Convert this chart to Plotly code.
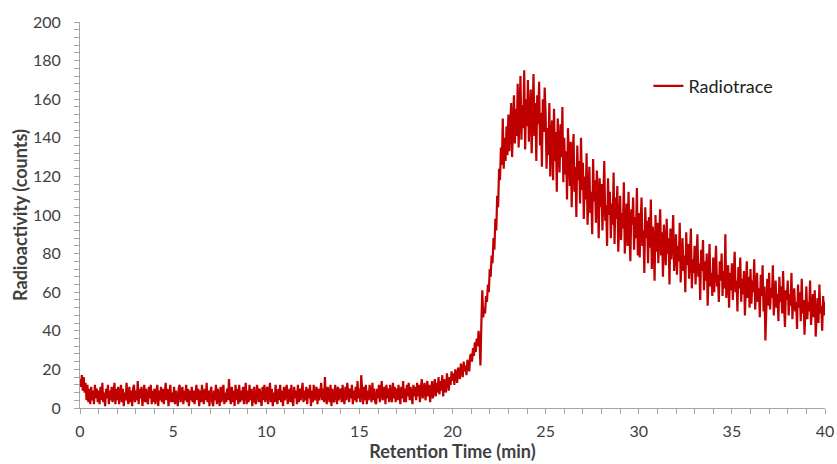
import numpy as np
import plotly.graph_objects as go

# Detector sampling interval (min)
SAMPLE_INTERVAL = 0.05

# Radioactivity counts, one reading every 0.05 min, grouped by 5-minute windows
counts_00_05 = [
    15, 11, 17, 9, 16, 8, 13, 4, 12, 3, 10, 2, 11, 4, 9, 2, 12, 5, 10, 3,
    9, 2, 11, 4, 13, 3, 8, 1, 10, 5, 12, 2, 9, 4, 11, 3, 8, 13, 2, 10,
    4, 11, 2, 9, 12, 3, 10, 1, 8, 4, 13, 5, 2, 11, 3, 9, 1, 10, 12, 3,
    9, 4, 14, 2, 10, 5, 11, 1, 8, 12, 3, 10, 4, 2, 11, 5, 12, 2, 9, 3,
    10, 2, 8, 12, 1, 9, 4, 11, 3, 10, 2, 8, 13, 4, 10, 1, 9, 12, 3, 8,
]
counts_05_10 = [
    3, 11, 2, 9, 5, 1, 10, 12, 3, 8, 11, 2, 9, 4, 12, 3, 10, 1, 9, 4,
    11, 3, 9, 2, 8, 12, 4, 10, 1, 9, 3, 12, 5, 2, 10, 4, 13, 3, 9, 1,
    8, 11, 3, 1, 9, 4, 12, 2, 10, 5, 1, 11, 3, 9, 12, 2, 8, 3, 10, 4,
    15, 5, 2, 11, 3, 9, 1, 12, 4, 10, 2, 12, 3, 9, 4, 11, 2, 8, 13, 2,
    9, 3, 12, 4, 10, 1, 8, 11, 3, 2, 12, 9, 3, 10, 5, 1, 11, 4, 12, 3,
]
counts_10_15 = [
    8, 11, 2, 9, 13, 3, 10, 1, 8, 3, 12, 5, 2, 10, 4, 12, 3, 9, 1, 11,
    4, 9, 12, 2, 8, 10, 3, 12, 4, 1, 11, 5, 9, 2, 12, 3, 10, 4, 8, 13,
    3, 9, 4, 11, 2, 10, 5, 12, 1, 9, 3, 12, 4, 8, 11, 2, 10, 4, 9, 13,
    4, 10, 3, 16, 5, 2, 11, 8, 3, 12, 1, 10, 4, 3, 12, 8, 2, 11, 4, 9,
    10, 3, 12, 5, 2, 11, 4, 13, 8, 3, 10, 5, 12, 2, 9, 4, 11, 3, 14, 5,
]
counts_15_20 = [
    10, 3, 17, 6, 2, 11, 4, 12, 2, 9, 4, 12, 5, 3, 13, 4, 10, 3, 2, 10,
    5, 12, 3, 10, 14, 4, 9, 11, 2, 12, 5, 10, 3, 12, 6, 3, 13, 5, 11, 3,
    10, 4, 12, 6, 2, 11, 5, 14, 3, 10, 3, 12, 6, 13, 4, 11, 5, 2, 12, 6,
    11, 4, 13, 6, 12, 3, 10, 15, 5, 11, 13, 4, 10, 14, 6, 12, 3, 11, 14, 5,
    12, 15, 6, 13, 8, 16, 7, 14, 9, 17, 6, 15, 10, 8, 18, 11, 9, 16, 12, 19,
]
counts_20_25 = [
    14, 18, 12, 20, 16, 13, 21, 17, 15, 23, 18, 16, 24, 19, 22, 17, 25, 21, 19, 27,
    28, 24, 31, 27, 34, 29, 36, 32, 40, 35, 22, 44, 61, 47, 52, 49, 58, 55, 64, 60,
    72, 68, 79, 75, 88, 82, 98, 92, 110, 104, 124, 118, 135, 126, 150, 124, 140, 128, 146, 131,
    152, 133, 144, 158, 130, 148, 162, 137, 155, 141, 168, 135, 150, 172, 139, 157, 145, 175, 134, 160,
    146, 170, 138, 155, 165, 132, 150, 173, 141, 158, 128, 162, 147, 169, 136, 153, 125, 160, 143, 166,
]
counts_25_30 = [
    152, 124, 145, 131, 158, 120, 140, 149, 118, 155, 128, 143, 112, 150, 135, 122, 147, 130, 156, 117,
    140, 121, 133, 108, 145, 126, 115, 138, 104, 130, 142, 112, 125, 99, 136, 118, 128, 106, 140, 113,
    127, 98, 120, 108, 132, 95, 116, 125, 101, 112, 90, 129, 107, 118, 96, 123, 110, 88, 119, 104,
    116, 92, 110, 128, 97, 105, 84, 119, 100, 112, 88, 106, 95, 122, 85, 109, 98, 115, 81, 103,
    110, 87, 101, 93, 117, 80, 98, 106, 84, 112, 91, 76, 103, 95, 109, 82, 99, 88, 114, 79,
]
counts_30_35 = [
    101, 78, 95, 109, 84, 92, 70, 104, 88, 97, 75, 99, 83, 108, 72, 94, 86, 66, 100, 81,
    96, 75, 89, 103, 79, 91, 68, 95, 84, 74, 98, 80, 88, 64, 93, 77, 86, 100, 71, 83,
    90, 69, 84, 76, 96, 65, 82, 88, 71, 79, 60, 91, 74, 85, 67, 80, 93, 62, 77, 70,
    84, 64, 78, 90, 68, 75, 56, 82, 71, 87, 61, 76, 66, 80, 53, 73, 85, 63, 70, 58,
    78, 60, 72, 84, 63, 69, 55, 76, 66, 80, 58, 71, 62, 90, 57, 68, 74, 52, 70, 61,
]
counts_35_40 = [
    75, 56, 69, 81, 60, 66, 50, 73, 62, 78, 55, 67, 59, 71, 48, 64, 76, 57, 68, 52,
    72, 54, 66, 60, 77, 51, 64, 70, 55, 62, 47, 69, 58, 74, 50, 63, 35, 57, 67, 53,
    70, 51, 62, 57, 74, 48, 60, 66, 52, 59, 45, 68, 55, 63, 49, 71, 54, 42, 61, 56,
    66, 48, 59, 53, 70, 46, 57, 62, 50, 55, 41, 64, 52, 60, 45, 67, 49, 56, 38, 58,
    63, 46, 55, 50, 66, 43, 54, 59, 47, 61, 37, 52, 57, 44, 64, 49, 53, 40, 58, 48,
    55,
]

x_ticks = [0, 5, 10, 15, 20, 25, 30, 35, 40]
y_ticks = [0, 20, 40, 60, 80, 100, 120, 140, 160, 180, 200]

counts = (counts_00_05 + counts_05_10 + counts_10_15 + counts_15_20
          + counts_20_25 + counts_25_30 + counts_30_35 + counts_35_40)
time_min = np.arange(len(counts)) * SAMPLE_INTERVAL

FONT = "Lato"
TEXT = "#404040"
AXIS = "#A6A6A6"

fig = go.Figure()
fig.add_trace(go.Scatter(
    x=time_min, y=counts, mode="lines", name="Radiotrace",
    line=dict(color="#C00000", width=2.2),
))

axis_common = dict(
    showgrid=False, zeroline=False, showline=True, linecolor=AXIS, linewidth=1,
    ticks="outside", tickcolor=AXIS, ticklen=5, tickwidth=1, automargin=False,
    tickfont=dict(family=FONT, size=16, color=TEXT),
)

fig.update_layout(
    width=837, height=464,
    margin=dict(l=80, r=12, t=22, b=56),
    paper_bgcolor="white", plot_bgcolor="white",
    showlegend=True,
    legend=dict(x=0.763, y=0.834, xanchor="left", yanchor="middle",
                font=dict(family=FONT, size=18, color="#222222"),
                bgcolor="rgba(0,0,0,0)"),
    xaxis=dict(
        range=[0, 40], tickvals=x_ticks, **axis_common,
        ticklabelstandoff=4,
        minor=dict(dtick=1, ticks="outside", ticklen=5, tickcolor=AXIS),
        title=dict(text="<b>Retention Time (min)</b>", standoff=2,
                   font=dict(family=FONT, size=18, color=TEXT)),
    ),
    yaxis=dict(
        range=[0, 200], tickvals=y_ticks, **axis_common,
        ticklabelstandoff=10,
        minor=dict(dtick=4, ticks="outside", ticklen=5, tickcolor=AXIS),
        title=dict(text="<b>Radioactivity (counts)</b>", standoff=0,
                   font=dict(family=FONT, size=18, color=TEXT)),
    ),
)

fig.write_html("out.html")
